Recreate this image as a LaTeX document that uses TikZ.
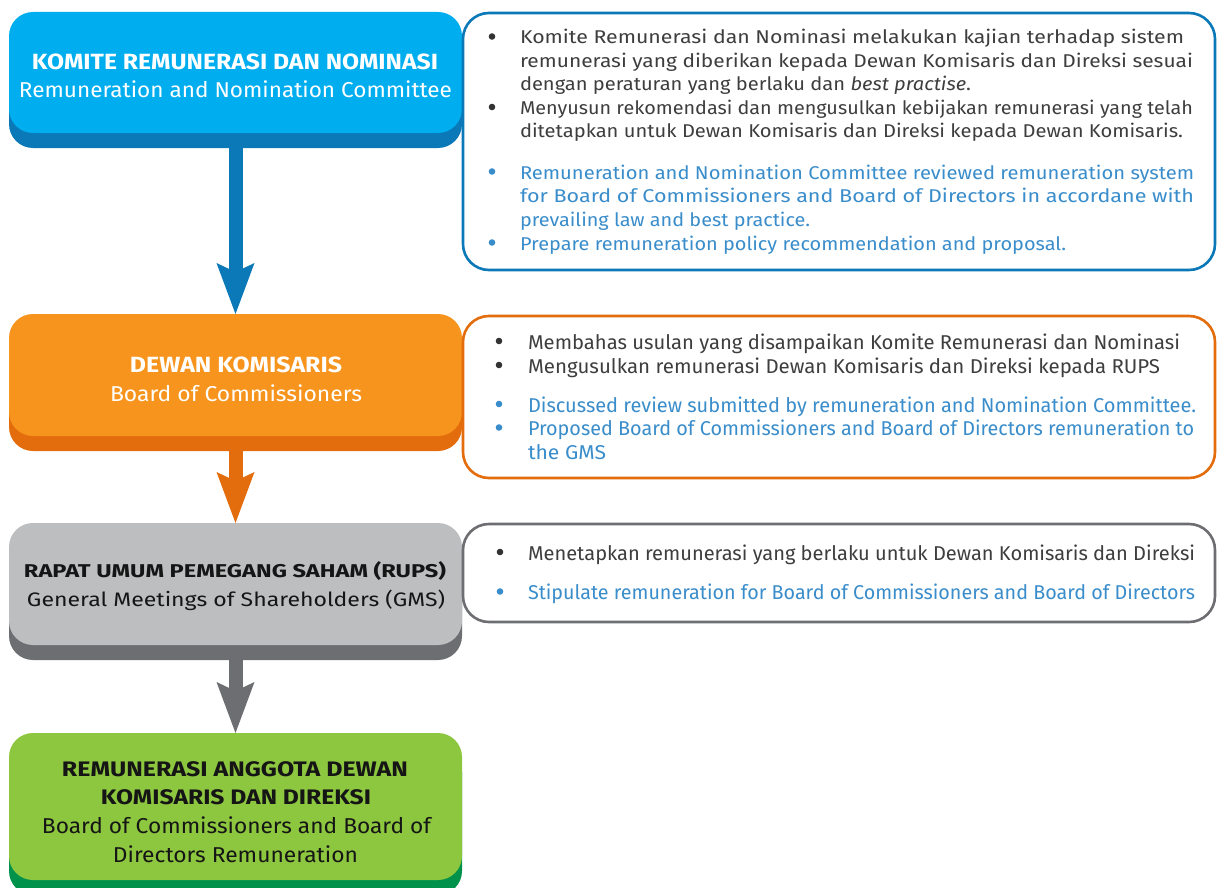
\documentclass[tikz,border=0pt]{standalone}
\usepackage{fontspec}
\setmainfont{Fira Sans}
\usepackage{graphicx}
\usetikzlibrary{arrows.meta}
\definecolor{cyanface}{HTML}{00AEEF}
\definecolor{cyandark}{HTML}{0B78B8}
\definecolor{orangeface}{HTML}{F7941D}
\definecolor{orangedark}{HTML}{E36C0C}
\definecolor{grayface}{HTML}{BCBEC0}
\definecolor{graydark}{HTML}{6D6E71}
\definecolor{greenface}{HTML}{8DC63F}
\definecolor{greendark}{HTML}{00924A}
\definecolor{bodytext}{HTML}{3E3E3E}
\definecolor{bluetext}{HTML}{3A8DCB}
\definecolor{bulletdark}{HTML}{333333}
\definecolor{titledark}{HTML}{151515}
\newcommand\fitw[2]{\resizebox{#1pt}{\height}{#2}}
\begin{document}
\begin{tikzpicture}[x=1pt,y=-1pt,
  face/.style={rectangle, rounded corners=24pt, draw=none, inner sep=0pt, outer sep=0pt,
    minimum width=453pt},
  outline/.style={rectangle, rounded corners=26pt, line width=2.6pt, fill=white, inner sep=0pt,
    outer sep=0pt, minimum width=752pt},
  flowarrow/.style={line width=14pt, -{Stealth[length=51pt, width=38pt, inset=9pt, line width=0pt]}},
  ctxt/.style={anchor=base, inner sep=0pt, outer sep=0pt},
  ltxt/.style={anchor=base west, inner sep=0pt, outer sep=0pt},
  bul/.style={circle, inner sep=0pt, outer sep=0pt, minimum size=6.6pt, draw=none},
  idtxt/.style={ltxt, text=bodytext},
  entxt/.style={ltxt, text=bluetext},
  idbul/.style={bul, fill=bulletdark},
  enbul/.style={bul, fill=bluetext}]
\clip (0,0) rectangle (1217,888);
\useasboundingbox (0,0) rectangle (1217,888);

% ---------- left boxes ----------
\node[face, fill=cyandark, minimum height=121pt] (b1sh) at (235.5,87.5) {};
\node[face, fill=cyanface, minimum height=121pt] (b1) at (235.5,72.5) {};
\node[face, fill=orangedark, minimum height=122pt] (b2sh) at (235.5,390) {};
\node[face, fill=orangeface, minimum height=122pt] (b2) at (235.5,375) {};
\node[face, fill=graydark, minimum height=122pt] (b3sh) at (235.5,599) {};
\node[face, fill=grayface, minimum height=122pt] (b3) at (235.5,584) {};
\node[face, fill=greendark, minimum height=147pt] (b4sh) at (235.5,821.5) {};
\node[face, fill=greenface, minimum height=147pt] (b4) at (235.5,806.5) {};

% ---------- connectors ----------
\draw[flowarrow, draw=cyandark] (b1sh.south) -- (b2.north);
\draw[flowarrow, draw=orangedark] (b2sh.south) -- (b3.north);
\draw[flowarrow, draw=graydark] (b3sh.south) -- (b4.north);

% ---------- left box texts ----------
\node[ctxt, text=white, font=\fontsize{22}{26}\selectfont\bfseries] (b1t1) at (235,69.5)
  {\fitw{406}{KOMITE REMUNERASI DAN NOMINASI}};
\node[ctxt, text=white, font=\fontsize{21.5}{26}\selectfont] (b1t2) at (235.5,98)
  {\fitw{433}{Remuneration and Nomination Committee}};
\node[ctxt, text=white, font=\fontsize{22}{26}\selectfont\bfseries] (b2t1) at (236,372)
  {\fitw{212}{DEWAN KOMISARIS}};
\node[ctxt, text=white, font=\fontsize{21.5}{26}\selectfont] (b2t2) at (236,401)
  {\fitw{252}{Board of Commissioners}};
\node[ctxt, text=titledark, font=\fontsize{18.5}{22}\selectfont\bfseries] (b3t1) at (235,577.5)
  {\fitw{422}{RAPAT UMUM PEMEGANG SAHAM (RUPS)}};
\node[ctxt, text=titledark, font=\fontsize{19.5}{22}\selectfont] (b3t2) at (236,606)
  {\fitw{418}{General Meetings of Shareholders (GMS)}};
\node[ctxt, text=titledark, font=\fontsize{21}{26}\selectfont\bfseries] (b4t1) at (235,776)
  {\fitw{346}{REMUNERASI ANGGOTA DEWAN}};
\node[ctxt, text=titledark, font=\fontsize{21}{26}\selectfont\bfseries] (b4t2) at (236,804)
  {\fitw{270}{KOMISARIS DAN DIREKSI}};
\node[ctxt, text=titledark, font=\fontsize{21.5}{26}\selectfont] (b4t3) at (236.5,833)
  {\fitw{389}{Board of Commissioners and Board of}};
\node[ctxt, text=titledark, font=\fontsize{21.5}{26}\selectfont] (b4t4) at (235.5,862)
  {\fitw{245}{Directors Remuneration}};

% ---------- right outline boxes ----------
\node[outline, draw=cyandark, minimum height=257pt] (r1) at (839,141.5) {};
\node[outline, draw=orangedark, minimum height=162pt] (r2) at (839,397) {};
\node[outline, draw=graydark, minimum height=98pt] (r3) at (839,573) {};

% ---------- box 1 text ----------
\begin{scope}[font=\fontsize{18.5}{22}\selectfont]
\node[idbul] (r1b1) at (492,36.5) {};
\node[idtxt] (r1l1) at (520,44) {\fitw{664}{Komite Remunerasi dan Nominasi melakukan kajian terhadap sistem}};
\node[idtxt] (r1l2) at (520,67.5) {\fitw{673}{remunerasi yang diberikan kepada Dewan Komisaris dan Direksi sesuai}};
\node[idtxt] (r1l3) at (520,91) {\fitw{451}{dengan peraturan yang berlaku dan \textit{best practise}.}};
\node[idbul] (r1b2) at (492,107) {};
\node[idtxt] (r1l4) at (520,114.5) {\fitw{673}{Menyusun rekomendasi dan mengusulkan kebijakan remunerasi yang telah}};
\node[idtxt] (r1l5) at (520,138) {\fitw{663}{ditetapkan untuk Dewan Komisaris dan Direksi kepada Dewan Komisaris.}};
\node[enbul] (r1b3) at (492,171.5) {};
\node[entxt] (r1l6) at (520,179) {\fitw{674}{Remuneration and Nomination Committee reviewed remuneration system}};
\node[entxt] (r1l7) at (520,202.7) {\fitw{674}{for Board of Commissioners and Board of Directors in accordane with}};
\node[entxt] (r1l8) at (520,226.4) {\fitw{290}{prevailing law and best practice.}};
\node[enbul] (r1b4) at (492,242.5) {};
\node[entxt] (r1l9) at (520,250) {\fitw{546}{Prepare remuneration policy recommendation and proposal.}};
\end{scope}

% ---------- box 2 text ----------
\begin{scope}[font=\fontsize{20}{24}\selectfont]
\node[idbul] (r2b1) at (499,341) {};
\node[idtxt] (r2l1) at (528,349) {\fitw{652}{Membahas usulan yang disampaikan Komite Remunerasi dan Nominasi}};
\node[idbul] (r2b2) at (499,365) {};
\node[idtxt] (r2l2) at (528,373) {\fitw{632}{Mengusulkan remunerasi Dewan Komisaris dan Direksi kepada RUPS}};
\node[enbul] (r2b3) at (499,404) {};
\node[entxt] (r2l3) at (528,412) {\fitw{668}{Discussed review submitted by remuneration and Nomination Committee.}};
\node[enbul] (r2b4) at (499,427.5) {};
\node[entxt] (r2l4) at (528,435.5) {\fitw{666}{Proposed Board of Commissioners and Board of Directors remuneration to}};
\node[entxt] (r2l5) at (528,459) {\fitw{78}{the GMS}};
\end{scope}

% ---------- box 3 text ----------
\begin{scope}[font=\fontsize{20}{24}\selectfont]
\node[idbul] (r3b1) at (500,552) {};
\node[idtxt] (r3l1) at (528,560) {\fitw{667}{Menetapkan remunerasi yang berlaku untuk Dewan Komisaris dan Direksi}};
\node[enbul] (r3b2) at (500,591.5) {};
\node[entxt] (r3l2) at (528,599.5) {\fitw{667}{Stipulate remuneration for Board of Commissioners and Board of Directors}};
\end{scope}
\end{tikzpicture}
\end{document}
